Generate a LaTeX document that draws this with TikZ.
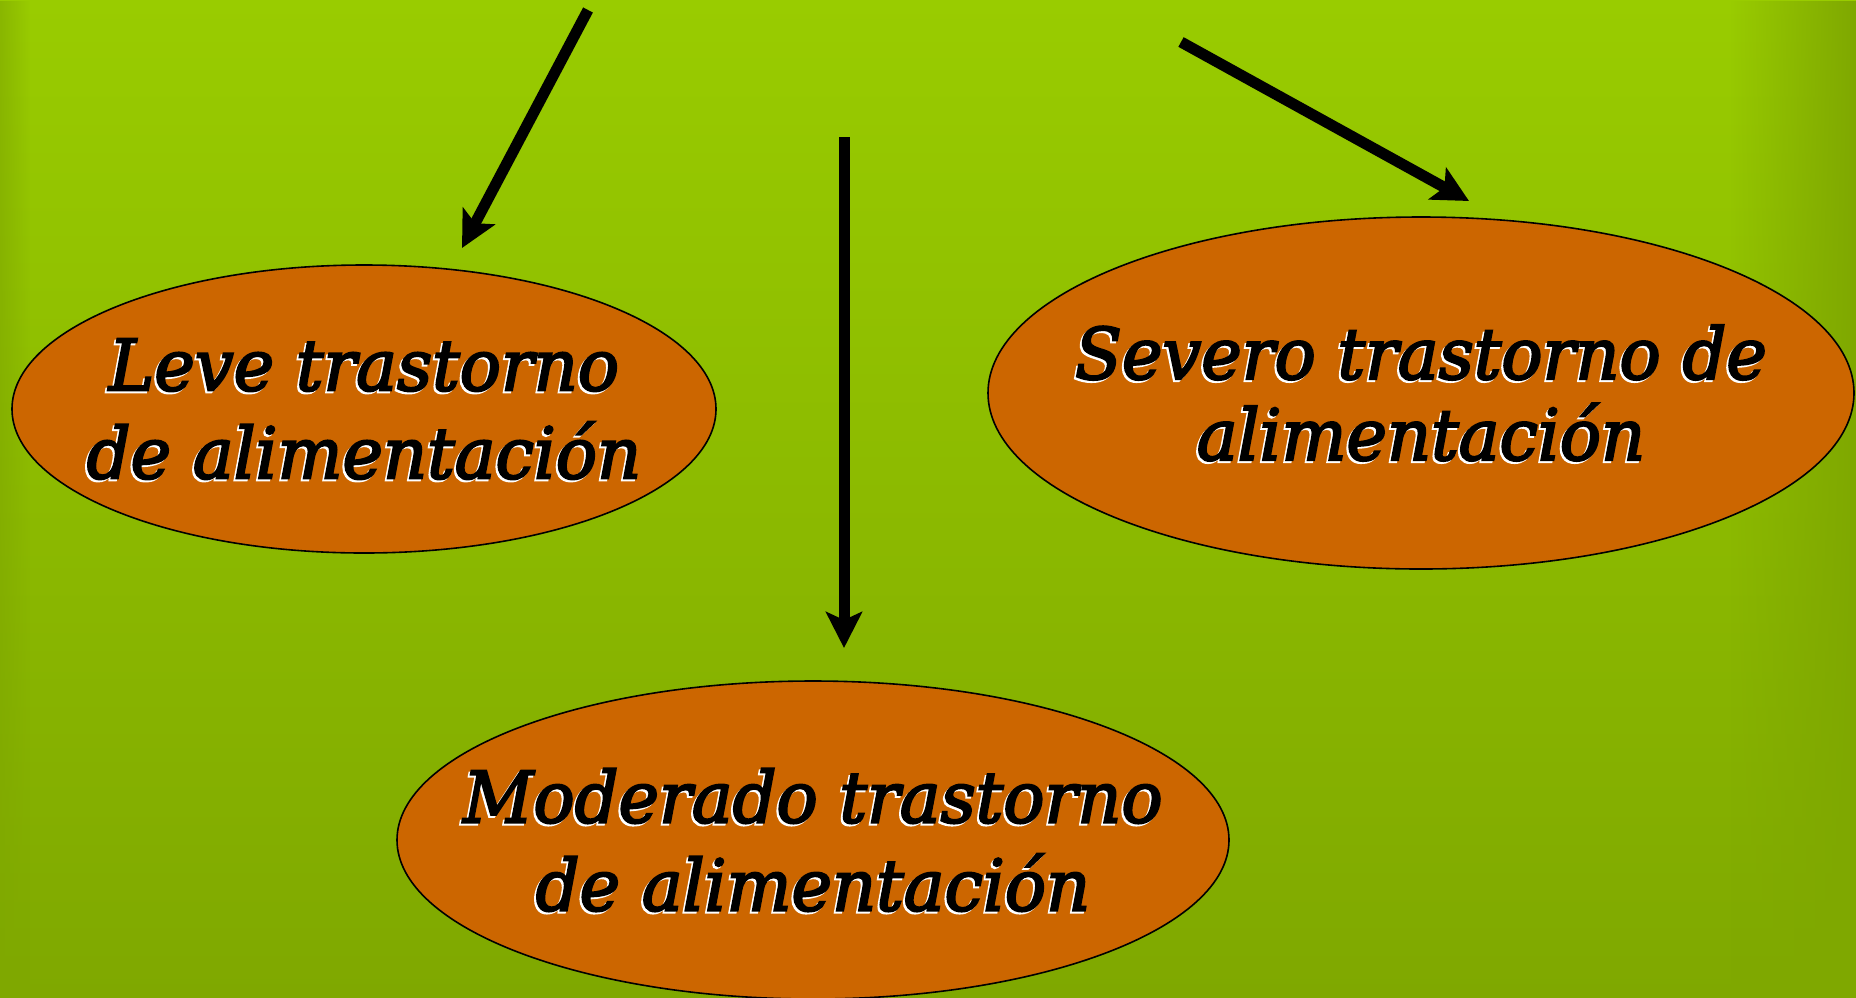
\documentclass[tikz,border=0pt]{standalone}
\usepackage{fontspec}
\setmainfont{DejaVu Serif}[ItalicFeatures={FakeBold=3,FakeStretch=0.965}]
\usetikzlibrary{arrows.meta,shapes.geometric,fadings}

\definecolor{verdeclaro}{HTML}{99CC00}
\definecolor{verdeoscuro}{HTML}{7FA800}
\definecolor{naranja}{HTML}{CC6600}

\tikzfading[name=hacia derecha, left color=transparent!100, right color=transparent!0]
\tikzfading[name=hacia izquierda, left color=transparent!0, right color=transparent!100]

\tikzset{
  blob/.style={ellipse, draw=black, line width=0.8pt, fill=naranja, inner sep=0pt},
  lbl/.style={font=\itshape\fontsize{35.5}{44}\selectfont, align=center, inner sep=0pt},
  flecha/.style={line width=5.5pt, -{Stealth[length=18pt,width=18pt,inset=4pt]}},
}

% texto negro con sombra blanca
\newcommand{\rotulo}[3]{%
  \node[lbl, #2, text=white] at ([shift={(-2,2)}]#1) {#3};
  \node[lbl, #2] (#1-txt) at (#1) {#3};
}

\begin{document}
\begin{tikzpicture}[x=0.5pt,y=-0.5pt]
  \clip (0,0) rectangle (1856,997);
  % fondo
  \shade[top color=verdeclaro, bottom color=verdeoscuro] (0,0) rectangle (1856,997);
  \fill[verdeoscuro, path fading=hacia derecha] (1730,0) rectangle (1856,997);
  \fill[verdeoscuro, opacity=0.6, path fading=hacia izquierda] (0,0) rectangle (30,997);

  % elipses
  \node[blob, minimum width=352pt, minimum height=144pt] (leve) at (364,409) {};
  \node[blob, minimum width=433pt, minimum height=176pt] (severo) at (1421,393) {};
  \node[blob, minimum width=416pt, minimum height=159pt] (moderado) at (813,840) {};

  \rotulo{leve}{}{Leve trastorno\\de alimentación}
  \rotulo{severo}{font=\itshape\fontsize{35.5}{40.5}\selectfont}{Severo trastorno de\\alimentación}
  \rotulo{moderado}{}{Moderado trastorno\\de alimentación}

  % flechas
  \coordinate (ini-leve) at (588,10);
  \coordinate (fin-leve) at (462,248);
  \coordinate (ini-mod) at (844,137);
  \coordinate (fin-mod) at (844,648);
  \coordinate (ini-sev) at (1181,42);
  \coordinate (fin-sev) at (1469,201);
  \draw[flecha] (ini-leve) -- (fin-leve);
  \draw[flecha] (ini-mod) -- (fin-mod);
  \draw[flecha] (ini-sev) -- (fin-sev);
\end{tikzpicture}
\end{document}
